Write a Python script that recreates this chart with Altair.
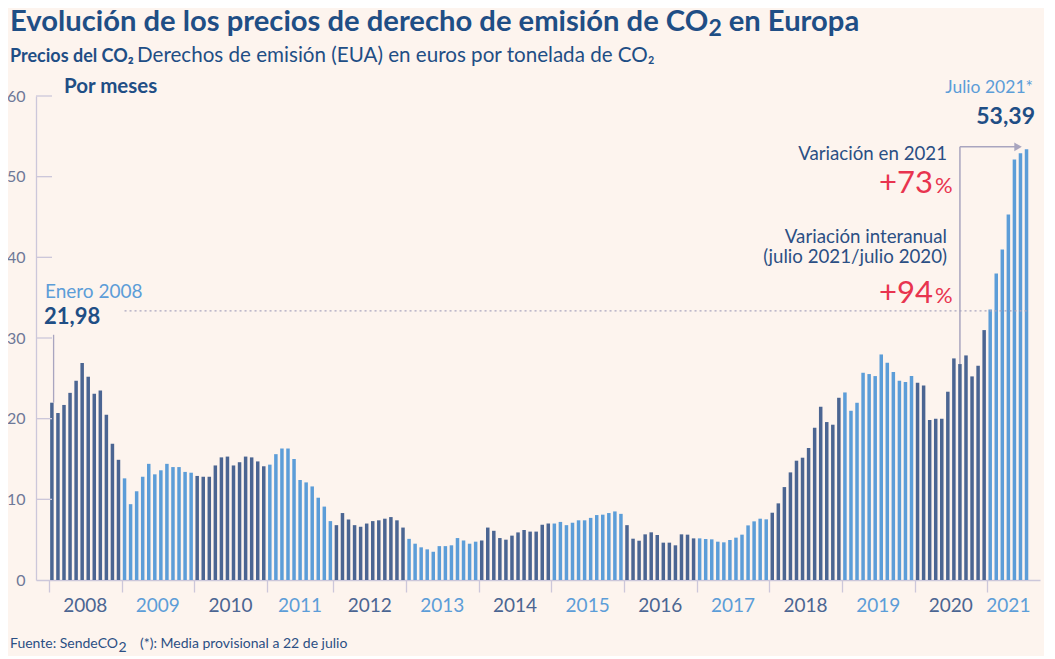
import altair as alt
import pandas as pd

years = list(range(2008, 2022))
p2008 = [21.98, 20.7, 21.7, 23.2, 24.7, 26.9, 25.2, 23.1, 23.5, 20.5, 16.9, 14.9]
p2009 = [12.6, 9.4, 11.0, 12.8, 14.4, 13.1, 13.6, 14.4, 14.0, 14.0, 13.4, 13.3]
p2010 = [12.9, 12.8, 12.8, 14.2, 15.2, 15.3, 14.2, 14.6, 15.3, 15.2, 14.7, 14.1]
p2011 = [14.3, 15.6, 16.3, 16.3, 15.0, 12.4, 12.1, 11.6, 10.2, 9.1, 7.3]
p2012 = [6.8, 8.3, 7.5, 6.8, 6.6, 7.0, 7.3, 7.4, 7.6, 7.8, 7.4, 6.5]
p2013 = [5.1, 4.5, 4.05, 3.8, 3.5, 4.2, 4.2, 4.3, 5.2, 4.9, 4.5, 4.75]
p2014 = [4.9, 6.5, 6.1, 5.2, 5.0, 5.5, 5.9, 6.2, 6.0, 6.0, 6.85, 7.0]
p2015 = [7.0, 7.2, 6.8, 7.1, 7.4, 7.4, 7.7, 8.05, 8.1, 8.3, 8.5, 8.2]
p2016 = [6.8, 5.12, 4.87, 5.66, 5.91, 5.58, 4.63, 4.63, 4.3, 5.66, 5.62, 5.16]
p2017 = [5.16, 5.08, 5.04, 4.75, 4.67, 4.96, 5.25, 5.62, 6.77, 7.27, 7.6, 7.52]
p2018 = [8.34, 9.5, 11.52, 13.34, 14.79, 15.16, 16.36, 18.88, 21.48, 19.58, 19.25, 22.59]
p2019 = [23.25, 20.98, 21.97, 25.69, 25.53, 25.28, 27.96, 26.93, 25.77, 24.7, 24.54, 25.28]
p2020 = [24.45, 24.12, 19.83, 19.99, 19.99, 23.34, 27.47, 26.77, 27.84, 25.24, 26.56, 30.98]
p2021 = [33.54, 38.0, 40.98, 45.31, 52.13, 52.91, 53.39]
series = [p2008, p2009, p2010, p2011, p2012, p2013, p2014, p2015,
          p2016, p2017, p2018, p2019, p2020, p2021]
y_ticks = [0, 10, 20, 30, 40, 50, 60]

FONT = "Lato"
TITLE_C = "#1f4e85"
TEXT_C = "#2b4f84"
LIGHT = "#5c9dd8"
DARK = "#4b6592"
RED = "#e8344f"
AXIS_C = "#ccc7da"
GUIDE = "#a9a5bf"
BG = "#fdf4ee"

rows, bounds, labels = [], [], []
idx = 0
for yr, vals in zip(years, series):
    par = "a" if (yr - 2008) % 2 == 0 else "b"
    start = idx
    for v in vals:
        rows.append({"i": idx, "v": v, "par": par})
        idx += 1
    bounds.append(start - 0.5)
    labels.append({"i": (start - 0.5 + idx - 0.5) / 2, "year": str(yr), "par": par})
df = pd.DataFrame(rows)
lab_df = pd.DataFrame(labels)

xs = alt.Scale(domain=[-1.8, 162.4], nice=False, zero=False)
ys = alt.Scale(domain=[0, 60], nice=False, zero=True)
cs = alt.Scale(domain=["a", "b"], range=[DARK, LIGHT])

X_AX = alt.Axis(values=bounds, labels=False, ticks=True, tickSize=12, tickColor=AXIS_C,
                tickWidth=1.3, domainColor=AXIS_C, domainWidth=1.3, grid=False, title=None)
Y_AX = alt.Axis(values=y_ticks, ticks=False, tickSize=0, labelPadding=11, labelFont=FONT,
                labelFontSize=16, labelColor="#6e7898", domainColor=AXIS_C, domainWidth=1.3,
                grid=False, title=None)


def X(f):
    return alt.X(f, scale=xs, axis=X_AX, title=None)


def Y(f):
    return alt.Y(f, scale=ys, axis=Y_AX, title=None)


bars = alt.Chart(df).mark_bar(size=3.5).encode(
    x=X("i:Q"), y=Y("v:Q"),
    color=alt.Color("par:N", scale=cs, legend=None),
)

ytick_layer = alt.Chart(pd.DataFrame({"v": y_ticks[1:]})).mark_rule(
    color=AXIS_C, strokeWidth=1.3).encode(
    y=Y("v:Q"), x=alt.value(0), x2=alt.value(16))

year_text = alt.Chart(lab_df).mark_text(
    font=FONT, fontSize=19, baseline="alphabetic", align="center").encode(
    x=X("i:Q"), y=alt.value(516), text="year:N",
    color=alt.Color("par:N", scale=cs, legend=None))

dotted = alt.Chart(pd.DataFrame({"i": [12.0], "i2": [161.4], "v": [33.36]})).mark_rule(
    color=GUIDE, strokeWidth=1.2, strokeDash=[2, 3]).encode(
    x=X("i:Q"), x2="i2:Q", y=Y("v:Q"))

enero_line = alt.Chart(pd.DataFrame({"i": [0.28], "v": [21.98], "v2": [30.4]})).mark_rule(
    color=GUIDE, strokeWidth=1.3).encode(x=X("i:Q"), y=Y("v:Q"), y2="v2:Q")

arrow_v = alt.Chart(pd.DataFrame({"i": [150], "v": [26.77], "v2": [53.7]})).mark_rule(
    color=GUIDE, strokeWidth=1.5).encode(x=X("i:Q"), y=Y("v:Q"), y2="v2:Q")
arrow_h = alt.Chart(pd.DataFrame({"i": [150], "i2": [159.3], "v": [53.7]})).mark_rule(
    color=GUIDE, strokeWidth=1.5).encode(x=X("i:Q"), x2="i2:Q", y=Y("v:Q"))
arrow_head = alt.Chart(pd.DataFrame({"i": [159.6], "v": [53.7]})).mark_point(
    shape="triangle-right", filled=True, size=75, opacity=1, color=GUIDE).encode(
    x=X("i:Q"), y=Y("v:Q"))


def txt(s, x, y, size, color, weight="normal", align="left"):
    return alt.Chart(pd.DataFrame({"t": [s]})).mark_text(
        font=FONT, fontSize=size, fontWeight=weight, color=color, align=align,
        baseline="alphabetic").encode(x=alt.value(x), y=alt.value(y), text="t:N")


texts = [
    txt("Evolución de los precios de derecho de emisión de CO", -26, -65, 29.2, TITLE_C, "bold"),
    txt("2", 672.5, -59.7, 23, TITLE_C, "bold"),
    txt("en Europa", 692.7, -65, 29.2, TITLE_C, "bold"),
    txt("Precios del CO₂", -26, -34, 18, TITLE_C, "bold"),
    txt("Derechos de emisión (EUA) en euros por tonelada de CO₂", 101, -34, 20.6, TITLE_C),
    txt("Por meses", 28, -3, 20.5, TITLE_C, "bold"),
    txt("Enero 2008", 9, 201.5, 19, LIGHT),
    txt("21,98", 8, 228, 22, TITLE_C, "bold"),
    txt("Julio 2021*", 997, -2.7, 17.5, LIGHT, align="right"),
    txt("53,39", 999, 28.3, 23, TITLE_C, "bold", "right"),
    txt("Variación en 2021", 911, 64, 18.7, TEXT_C, align="right"),
    txt("+73", 897, 96.7, 31, RED, align="right"),
    txt("%", 899, 96.7, 22, RED),
    txt("Variación interanual", 911, 146.7, 18.7, TEXT_C, align="right"),
    txt("(julio 2021/julio 2020)", 911, 166.7, 18.7, TEXT_C, align="right"),
    txt("+94", 897, 207.3, 31, RED, align="right"),
    txt("%", 899, 207.3, 22, RED),
    txt("Fuente: SendeCO", -26, 552.3, 14, TEXT_C),
    txt("2", 82.5, 556, 14, TEXT_C),
    txt("(*): Media provisional a 22 de julio", 104, 552.3, 14, TEXT_C),
]

chart = alt.layer(
    bars, ytick_layer, year_text, dotted, enero_line, arrow_v, arrow_h, arrow_head, *texts
).properties(
    width=1004, height=484,
    padding={"left": 28, "top": 88, "right": 4, "bottom": 76},
    autosize=alt.AutoSizeParams(type="none"),
    background=BG,
).configure_view(stroke=None)

chart.save("out.html", embed_options={"renderer": "svg", "actions": False})
